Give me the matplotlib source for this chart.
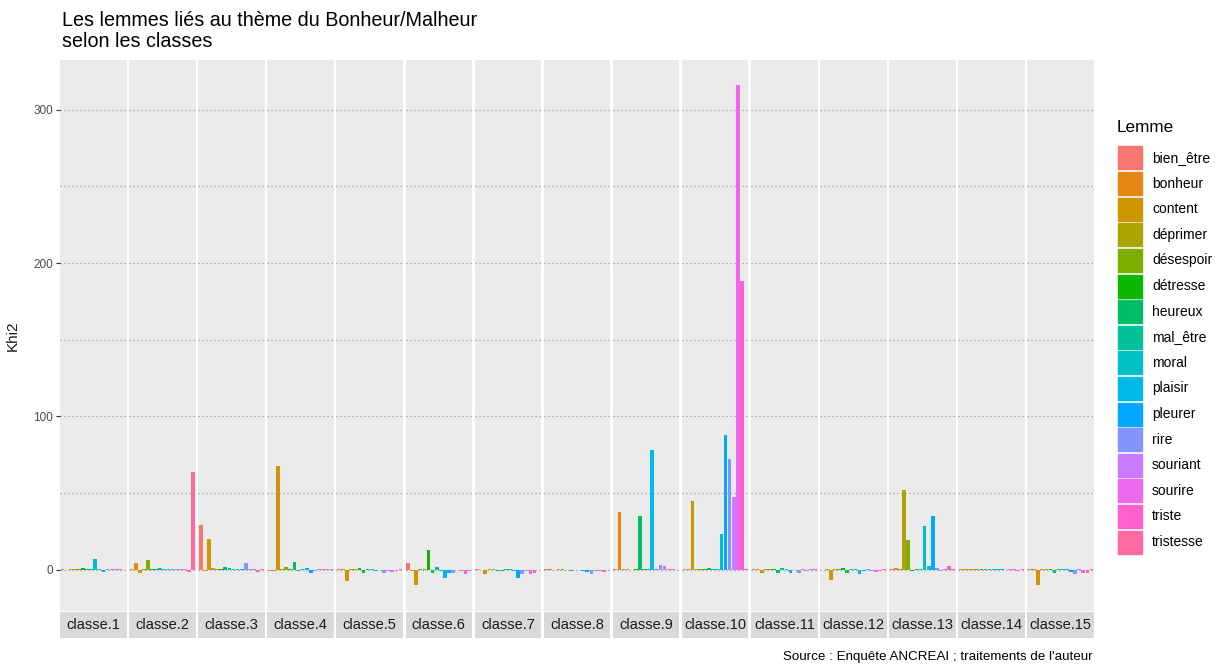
import numpy as np
import matplotlib
matplotlib.use("Agg")
import matplotlib.pyplot as plt
from matplotlib.patches import Rectangle

plt.rcParams['font.family'] = ['Liberation Sans', 'DejaVu Sans']

lemmes = ["bien_être", "bonheur", "content", "déprimer", "désespoir", "détresse",
          "heureux", "mal_être", "moral", "plaisir", "pleurer", "rire",
          "souriant", "sourire", "triste", "tristesse"]

classes = ["classe.%d" % i for i in range(1, 16)]

# Khi2 par classe (ordre des lemmes ci-dessus)
classe_1 = [0.3, 0.2, 0.6, 0.5, 0.5, 1.2, 0.3, 0.3, 7.0, 0.3, -1.5, 0.3, 0.8, 0.5, 0.3, 0.2]
classe_2 = [0.3, 4.3, -2.2, 0.5, 6.5, 0.5, 0.8, 1.0, 0.5, 0.5, 0.5, 0.3, 0.8, 0.3, -1.2, 64]
classe_3 = [29, -0.5, 20, 1.0, 0.5, 0.3, 1.8, 1.0, 0.5, 0.3, 0.5, 4.2, 0.5, 0.3, -1.2, 0.8]
classe_4 = [-0.6, -0.6, 68, 0.3, 2.2, 0.3, 5.4, -0.5, 0.6, 1.2, -2.0, -0.5, 0.5, 0.3, 0.8, 0.3]
classe_5 = [0.3, 0.3, -7, 0.5, 0.5, 1.0, -2.0, 0.5, 0.3, -1.0, 0.2, -2.0, -0.5, -1.5, -0.8, 0.3]
classe_6 = [4.5, -0.5, -9.8, 0.5, 0.3, 12.8, -1.8, 1.6, -1.0, -5.0, -2.0, -1.8, 0.2, -0.5, -3.0, -0.5]
classe_7 = [0.3, 0.2, -3.0, 0.5, 0.3, -1.0, -1.0, 0.5, 0.3, -0.5, -5.0, -3.0, -0.5, -2.5, -2.0, -0.3]
classe_8 = [0.3, 0.3, 0.2, 0.3, 0.5, 0.2, -1.0, 0.2, 0.2, -1.0, -1.5, -3.0, -0.5, -0.5, -1.5, -0.3]
classe_9 = [0.3, 38, 0.5, 0.3, 0.2, 0.5, 35, 0.3, 0.5, 78, 0.5, 3.0, 2.5, 0.5, 0.3, 0.2]
classe_10 = [0.3, 0.3, 45, 0.3, 0.3, 0.5, 1.2, 0.3, 0.3, 23.5, 88, 72, 47.5, 316, 188.5, 0.3]
classe_11 = [0.3, 0.3, -2.2, 0.3, 0.5, 0.3, -2.0, 1.0, 0.3, -2.0, 0.2, -2.0, 0.3, -1.0, 0.3, 0.3]
classe_12 = [0.2, 0.3, -6.5, 0.3, 0.3, 1.3, -2.0, 0.3, 0.3, -2.5, -1.0, 0.3, -0.5, -1.5, -0.5, 0.3]
classe_13 = [0.3, 1.2, 0.3, 52, 19.5, -1.0, 0.8, 0.5, 28.8, 2.8, 35.3, 1.2, -0.5, 0.3, 2.8, 0.3]
classe_14 = [0.3, 0.8, 0.3, 0.5, 0.5, 0.3, 0.3, 0.3, 0.5, 0.5, 0.3, 0.2, 0.3, 0.3, -0.8, 0.3]
classe_15 = [0.3, 0.3, -10, 0.3, 0.3, 0.3, -2.0, 0.3, 0.3, 0.5, -1.5, -2.5, 0.5, -2.0, -2.0, 0.3]

khi2 = [classe_1, classe_2, classe_3, classe_4, classe_5, classe_6, classe_7, classe_8,
        classe_9, classe_10, classe_11, classe_12, classe_13, classe_14, classe_15]


def hcl_to_rgb(h, c=100, l=65):
    # CIELUV polaire -> sRGB (comme scales::hue_pal)
    hr = np.deg2rad(h)
    u = c * np.cos(hr)
    v = c * np.sin(hr)
    Xn, Yn, Zn = 0.95047, 1.0, 1.08883
    Y = Yn * ((l + 16) / 116) ** 3 if l > 8 else Yn * l / 903.3
    un = 4 * Xn / (Xn + 15 * Yn + 3 * Zn)
    vn = 9 * Yn / (Xn + 15 * Yn + 3 * Zn)
    up = u / (13 * l) + un
    vp = v / (13 * l) + vn
    X = Y * 9 * up / (4 * vp)
    Z = Y * (12 - 3 * up - 20 * vp) / (4 * vp)
    M = np.array([[3.2404542, -1.5371385, -0.4985314],
                  [-0.9692660, 1.8760108, 0.0415560],
                  [0.0556434, -0.2040259, 1.0572252]])
    rgb = M @ np.array([X, Y, Z])
    out = []
    for ch in rgb:
        ch = 12.92 * ch if ch <= 0.0031308 else 1.055 * ch ** (1 / 2.4) - 0.055
        out.append(min(max(ch, 0), 1))
    return tuple(out)


n = len(lemmes)
hues = np.linspace(15, 375, n + 1)[:-1]
colors = [hcl_to_rgb(h) for h in hues]

W, H = 1225, 666
fig = plt.figure(figsize=(W / 100, H / 100), dpi=100)


def fx(px):
    return px / W


def fy(py):
    return 1 - py / H


left, right = 60, 1094
gap = 2.6
pw = (right - left - gap * (len(classes) - 1)) / len(classes)
ptop, pbot = 60, 611
stop, sbot = 612, 638

ymin, ymax = -26.8, 332.3

for i, cl in enumerate(classes):
    x0 = left + i * (pw + gap)
    ax = fig.add_axes([fx(x0), fy(pbot), pw / W, (pbot - ptop) / H])
    ax.set_facecolor('#EBEBEB')
    for g in range(0, 301, 50):
        ax.axhline(g, color='#9A9A9A', lw=0.9, ls=(0, (1, 2.2)), zorder=0)
    ax.bar(np.arange(n), khi2[i], width=0.9, color=colors, zorder=2)
    ax.set_xlim(-0.6, n - 0.4)
    ax.set_ylim(ymin, ymax)
    ax.set_xticks([])
    for s in ax.spines.values():
        s.set_visible(False)
    if i == 0:
        ax.set_yticks([0, 100, 200, 300])
        ax.tick_params(axis='y', length=3, color='#333333', labelsize=8.5,
                       labelcolor='#4D4D4D', pad=2)
        ax.set_ylabel('Khi2', fontsize=11, color='#1A1A1A', labelpad=10)
    else:
        ax.set_yticks([])

    sax = fig.add_axes([fx(x0), fy(sbot), pw / W, (sbot - stop) / H])
    sax.set_facecolor('#D9D9D9')
    sax.set_xticks([])
    sax.set_yticks([])
    for s in sax.spines.values():
        s.set_visible(False)
    sax.text(0.5, 0.5, cl, ha='center', va='center', fontsize=10.5,
             color='#1A1A1A', transform=sax.transAxes)

# titre et source
fig.text(fx(62), fy(31), "Les lemmes liés au thème du Bonheur/Malheur\nselon les classes",
         ha='left', va='center', fontsize=14.2, color='black', linespacing=1.15)
fig.text(fx(1093), fy(657), "Source : Enquête ANCREAI ; traitements de l'auteur",
         ha='right', va='center', fontsize=9.6, color='black')

# légende
fig.text(fx(1117), fy(128), "Lemme", ha='left', va='center', fontsize=12.3, color='black')
for k, lab in enumerate(lemmes):
    yc = 158 + 25.6 * k
    fig.patches.append(Rectangle((fx(1118), fy(yc + 11.5)), 24 / W, 23 / H,
                                 transform=fig.transFigure, color=colors[k], zorder=3))
    fig.text(fx(1152), fy(yc), lab, ha='left', va='center', fontsize=10, color='black')

fig.savefig('out.png', dpi=100)
